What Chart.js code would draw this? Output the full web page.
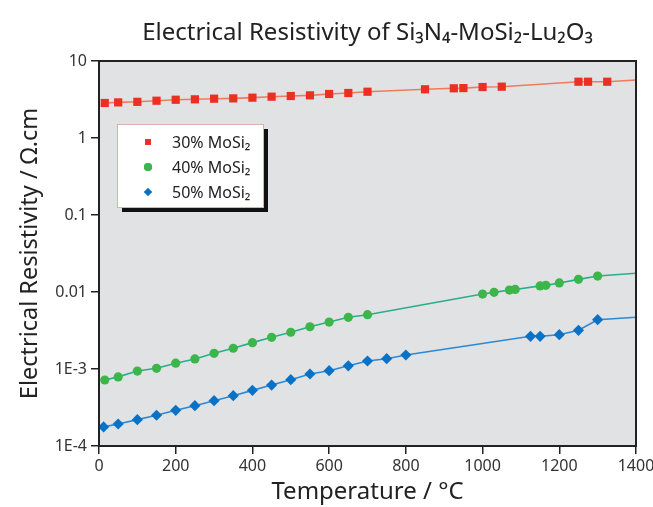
<!DOCTYPE html>
<html>
<head>
<meta charset="utf-8">
<script src="https://cdn.jsdelivr.net/npm/chart.js@4.4.1/dist/chart.umd.min.js"></script>
<style>
  html, body { margin: 0; padding: 0; background: #fff; overflow: hidden; }
  #wrap { width: 670px; height: 507px; }
</style>
</head>
<body>
<div id="wrap"><canvas id="myChart"></canvas></div>
<script>
// values (temperature in °C, resistivity in ohm.cm)
var temps30 = [15, 50, 100, 150, 200, 250, 300, 350, 400, 450, 500, 550, 600, 650, 700, 850, 925, 950, 1000, 1050, 1250, 1275, 1325];
var res30 = [2.85, 2.9, 2.95, 3.05, 3.14, 3.18, 3.24, 3.27, 3.34, 3.44, 3.51, 3.58, 3.73, 3.84, 3.99, 4.29, 4.42, 4.45, 4.59, 4.64, 5.38, 5.38, 5.38];

var temps40 = [15, 50, 100, 150, 200, 250, 300, 350, 400, 450, 500, 550, 600, 650, 700, 1000, 1030, 1070, 1085, 1150, 1165, 1200, 1250, 1300];
var res40 = [0.00072, 0.00079, 0.00094, 0.00102, 0.00119, 0.00135, 0.0016, 0.00186, 0.0022, 0.00258, 0.003, 0.00354, 0.00407, 0.00469, 0.00507, 0.0094, 0.0099, 0.0106, 0.0108, 0.012, 0.0122, 0.0131, 0.0146, 0.0161];

var temps50 = [12, 50, 100, 150, 200, 250, 300, 350, 400, 450, 500, 550, 600, 650, 700, 750, 800, 1125, 1150, 1200, 1250, 1300];
var res50 = [0.000177, 0.000193, 0.00022, 0.000251, 0.000291, 0.000334, 0.000388, 0.00045, 0.000528, 0.000619, 0.000726, 0.000861, 0.000951, 0.0011, 0.00127, 0.00136, 0.00152, 0.00266, 0.00266, 0.00279, 0.00318, 0.00437];

// where each fitted line leaves the plot on the right
var fitEndTemp = 1400;
var fitEnd30 = 5.66;
var fitEnd40 = 0.0175;
var fitEnd50 = 0.0047;

var seriesNames = ['30% MoSi\u2082', '40% MoSi\u2082', '50% MoSi\u2082'];
var xTicks = [0, 200, 400, 600, 800, 1000, 1200, 1400];
var yTicks = [0.0001, 0.001, 0.01, 0.1, 1, 10];
var yTickLabels = ['1E-4', '1E-3', '0.01', '0.1', '1', '10'];

var FONT = '"Noto Sans", "Open Sans", "DejaVu Sans", sans-serif';
var INK = '#222222';

function points(xs, ys, endX, endY) {
    var out = xs.map(function (x, i) { return { x: x, y: ys[i] }; });
    out.push({ x: endX, y: endY });
    return out;
}

function seriesDataset(label, xs, ys, endY, lineColor, markColor, style, radius) {
    var n = xs.length;
    return {
        label: label,
        data: points(xs, ys, fitEndTemp, endY),
        showLine: true,
        borderColor: lineColor,
        borderWidth: 1.6,
        tension: 0,
        pointStyle: style,
        pointRadius: function (c) { return c.dataIndex < n ? radius : 0; },
        pointBackgroundColor: markColor,
        pointBorderColor: markColor,
        pointBorderWidth: 0,
        markColor: markColor
    };
}

var datasets = [
    seriesDataset(seriesNames[0], temps30, res30, fitEnd30, '#f27a5c', '#ec2f23', 'rect', 5.8),
    seriesDataset(seriesNames[1], temps40, res40, fitEnd40, '#25b08a', '#3cb54a', 'circle', 4.6),
    seriesDataset(seriesNames[2], temps50, res50, fitEnd50, '#2a8ad8', '#0a72c6', 'rectRot', 5.6)
];

var plotFrame = {
    id: 'plotFrame',
    beforeDatasetsDraw: function (chart) {
        var a = chart.chartArea, ctx = chart.ctx;
        ctx.save();
        ctx.fillStyle = '#e1e2e4';
        ctx.fillRect(a.left, a.top, a.right - a.left, a.bottom - a.top);
        ctx.restore();
    },
    afterDraw: function (chart) {
        var a = chart.chartArea, ctx = chart.ctx;
        ctx.save();
        ctx.strokeStyle = INK;
        ctx.lineWidth = 2;
        ctx.strokeRect(a.left, a.top, a.right - a.left, a.bottom - a.top);
        ctx.restore();
    }
};

var legendBox = {
    id: 'legendBox',
    afterDraw: function (chart) {
        var a = chart.chartArea, ctx = chart.ctx;
        var x = a.left + 18, y = a.top + 63, w = 146, h = 83;
        ctx.save();
        ctx.fillStyle = '#111';
        ctx.fillRect(x + 5, y + 5, w, h);
        ctx.fillStyle = '#ffffff';
        ctx.fillRect(x, y, w, h);
        ctx.strokeStyle = '#d4b3aa';
        ctx.lineWidth = 1;
        ctx.strokeRect(x + 0.5, y + 0.5, w, h);
        ctx.font = '16px ' + FONT;
        ctx.textBaseline = 'middle';
        ctx.fillStyle = INK;
        chart.data.datasets.forEach(function (ds, i) {
            var cy = y + 18 + i * 25;
            ctx.fillStyle = ds.markColor;
            Chart.helpers.drawPoint(ctx, { pointStyle: ds.pointStyle, radius: 4, rotation: 0, borderWidth: 0 }, x + 31, cy);
            ctx.fill();
            ctx.fillStyle = INK;
            ctx.fillText(ds.label, x + 55, cy + 1);
        });
        ctx.restore();
    }
};

var ctx = document.getElementById('myChart');

var myChart = new Chart(ctx, {
    type: 'scatter',
    data: { datasets: datasets },
    options: {
        responsive: true,
        maintainAspectRatio: false,
        animation: false,
        devicePixelRatio: 1,
        layout: { padding: { left: 0, right: 34, top: 0, bottom: 0 } },
        plugins: {
            legend: { display: false },
            tooltip: { enabled: false },
            title: { display: false }
        },
        scales: {
            x: {
                type: 'linear',
                position: 'bottom',
                min: 0,
                max: 1400,
                afterBuildTicks: function (s) { s.ticks = xTicks.map(function (v) { return { value: v }; }); },
                afterFit: function (s) { s.height = 61; },
                ticks: {
                    color: '#333',
                    font: { family: FONT, size: 16 },
                    padding: 3,
                    maxRotation: 0,
                    callback: function (v) { return String(v); }
                },
                grid: { drawOnChartArea: false, drawTicks: true, tickLength: 8, color: INK, lineWidth: 1.5 },
                border: { display: true, color: INK, width: 2 },
                title: { display: true, text: 'Temperature / \u00b0C', color: INK, font: { family: FONT, size: 24 }, padding: { top: 0, bottom: 0 } }
            },
            x2: {
                type: 'linear',
                position: 'top',
                min: 0,
                max: 1400,
                afterFit: function (s) { s.height = 61; },
                ticks: { display: false },
                grid: { display: false },
                border: { display: false },
                title: { display: true, text: 'Electrical Resistivity of Si\u2083N\u2084-MoSi\u2082-Lu\u2082O\u2083', color: INK, font: { family: FONT, size: 24 }, padding: { top: 19, bottom: 0 } }
            },
            y: {
                type: 'logarithmic',
                position: 'left',
                min: 0.0001,
                max: 10,
                afterBuildTicks: function (s) { s.ticks = yTicks.map(function (v) { return { value: v }; }); },
                afterFit: function (s) { s.width = 99; },
                ticks: {
                    color: '#333',
                    font: { family: FONT, size: 16 },
                    padding: 4,
                    callback: function (v) { return yTickLabels[yTicks.indexOf(v)]; }
                },
                grid: { drawOnChartArea: false, drawTicks: true, tickLength: 8, color: INK, lineWidth: 1.5 },
                border: { display: true, color: INK, width: 2 },
                title: { display: true, text: 'Electrical Resistivity / \u03a9.cm', color: INK, font: { family: FONT, size: 23.5 }, padding: { top: 16, bottom: 0 } }
            }
        }
    },
    plugins: [plotFrame, legendBox]
});
</script>
</body>
</html>
